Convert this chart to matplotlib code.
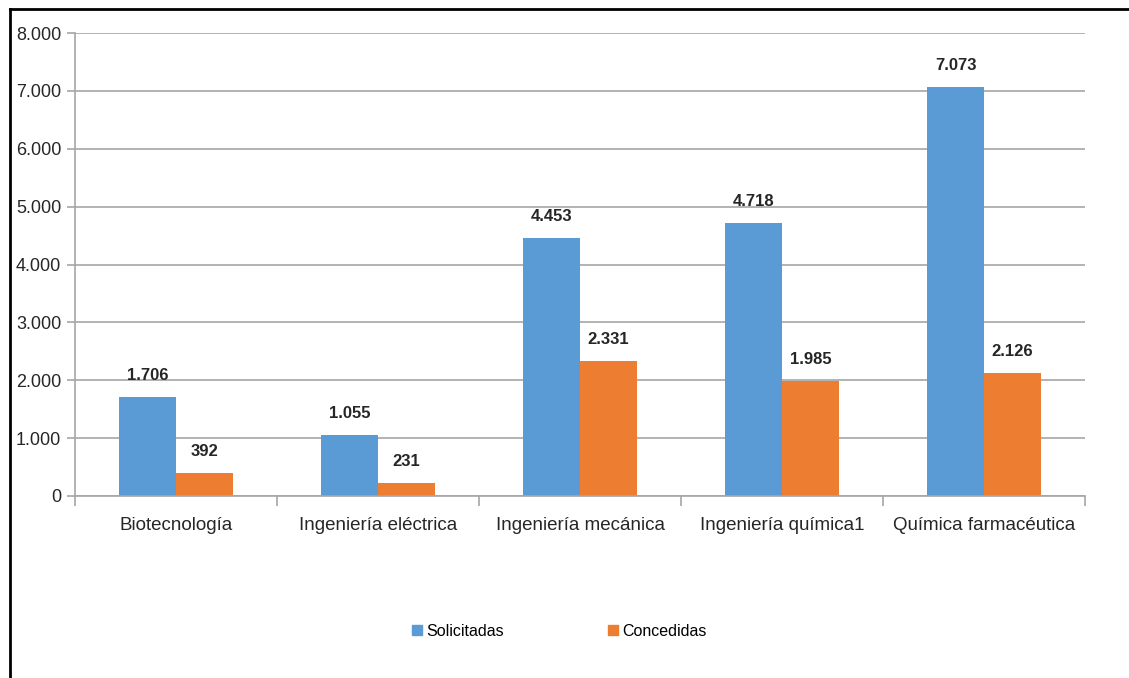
import matplotlib.pyplot as plt
import numpy as np
from matplotlib.lines import Line2D

plt.rcParams['font.family'] = ['Liberation Sans Narrow', 'Liberation Sans', 'DejaVu Sans']

# datos
categorias = ['Biotecnología', 'Ingeniería eléctrica', 'Ingeniería mecánica',
              'Ingeniería química1', 'Química farmacéutica']
solicitadas = [1706, 1055, 4453, 4718, 7073]
concedidas = [392, 231, 2331, 1985, 2126]
etiquetas_y = ['0', '1.000', '2.000', '3.000', '4.000', '5.000', '6.000', '7.000', '8.000']

azul = '#5b9bd5'
naranja = '#ed7d31'
gris = '#a6a6a6'


def fmt(v):
    return '{:,}'.format(v).replace(',', '.')


fig = plt.figure(figsize=(11.29, 6.78), dpi=100)
ax = fig.add_axes([75 / 1129, 1 - 496 / 678, 1010 / 1129, 463 / 678])

x = np.arange(len(categorias))
w = 0.282
b1 = ax.bar(x - w / 2, solicitadas, w, color=azul, label='Solicitadas')
b2 = ax.bar(x + w / 2, concedidas, w, color=naranja, label='Concedidas')

for barras, vals in [(b1, solicitadas), (b2, concedidas)]:
    for r, v in zip(barras, vals):
        ax.annotate(fmt(v), (r.get_x() + r.get_width() / 2, v), xytext=(0, 10),
                    textcoords='offset points', ha='center', va='bottom',
                    fontsize=12, fontweight='bold', color='#262626')

ax.set_xlim(-0.5, len(categorias) - 0.5)
ax.set_ylim(0, 8000)
ax.set_yticks(np.arange(0, 8001, 1000))
ax.set_yticklabels(etiquetas_y, fontsize=13, color='#262626')
ax.set_xticks(x)
ax.set_xticklabels(categorias, fontsize=13.5, color='#262626')
ax.tick_params(axis='x', length=0, pad=15)
ax.tick_params(axis='y', length=6, color=gris, width=1.2, pad=4)
# marcas entre grupos
ax.set_xticks(np.arange(-0.5, len(categorias)), minor=True)
ax.tick_params(axis='x', which='minor', length=7, color=gris, width=1.2, direction='out')

ax.yaxis.grid(True, color=gris, linewidth=1.2)
ax.set_axisbelow(True)
for s in ['top', 'right']:
    ax.spines[s].set_visible(False)
ax.spines['left'].set_color(gris)
ax.spines['bottom'].set_color(gris)
ax.spines['left'].set_linewidth(1.2)
ax.spines['bottom'].set_linewidth(1.2)

handles = [Line2D([], [], marker='s', linestyle='', color=azul, markersize=7),
           Line2D([], [], marker='s', linestyle='', color=naranja, markersize=7)]
fig.legend(handles, ['Solicitadas', 'Concedidas'], loc='center', bbox_to_anchor=(558 / 1129, 1 - 631 / 678),
           ncol=2, frameon=False, fontsize=11.5, columnspacing=6.3, handletextpad=0.1, handlelength=1)

# marco
fig.add_artist(Line2D([10 / 1129, 10 / 1129], [0, 1 - 9 / 678], transform=fig.transFigure, color='black', linewidth=2))
fig.add_artist(Line2D([10 / 1129, 1], [1 - 9 / 678, 1 - 9 / 678], transform=fig.transFigure, color='black', linewidth=2))

fig.savefig('out.png', dpi=100)
